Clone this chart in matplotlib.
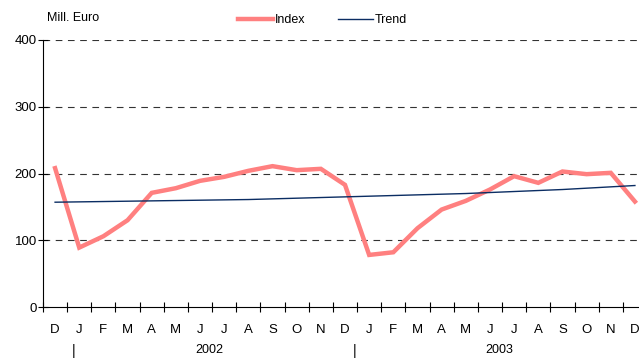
import matplotlib
matplotlib.use("Agg")
import matplotlib.pyplot as plt

plt.rcParams['font.family'] = ['Liberation Sans', 'DejaVu Sans']

months = ["D", "J", "F", "M", "A", "M", "J", "J", "A", "S", "O", "N",
          "D", "J", "F", "M", "A", "M", "J", "J", "A", "S", "O", "N", "D"]
index_vals = [208, 89, 106, 130, 171, 178, 189, 195, 204, 211, 205, 207,
              183, 78, 82, 118, 146, 159, 176, 196, 186, 203, 199, 201, 158]
trend_vals = [157, 157.5, 158, 158.5, 159, 159.5, 160, 160.5, 161, 162, 163, 164,
              165, 166, 167, 168, 169, 170, 171.5, 173, 174.5, 176, 178, 180, 182]
years = ["2002", "2003"]
year_pos = [6.4, 18.4]
year_sep = [0.75, 12.4]

x = list(range(len(months)))

fig = plt.figure(figsize=(6.39, 3.60), dpi=100)
ax = fig.add_axes([43 / 639, 1 - 307 / 360, 604 / 639, 267 / 360])

ax.plot(x, index_vals, color="#FF8080", lw=3.2, label="Index", solid_joinstyle="miter")
ax.plot(x, trend_vals, color="#0B2D63", lw=1.0, label="Trend")

ax.set_xlim(-0.5, 24.5)
ax.set_ylim(0, 400)
ax.set_yticks([0, 100, 200, 300, 400])
for v in [100, 200, 300, 400]:
    ax.axhline(v, color="#333333", lw=0.8, dashes=(6, 5), zorder=0)

ax.set_xticks([i + 0.5 for i in range(-1, 25)], minor=False)
ax.set_xticklabels([])
ax.set_xticks(x, minor=True)
ax.set_xticklabels(months, minor=True)
ax.tick_params(axis="x", which="major", direction="inout", length=7, width=0.8)
ax.tick_params(axis="x", which="minor", length=0, pad=12, labelsize=9.5)
ax.tick_params(axis="y", direction="inout", length=7, width=0.8, labelsize=9.5, pad=1)

for s in ["top", "right"]:
    ax.spines[s].set_visible(False)
ax.spines["left"].set_linewidth(0.8)
ax.spines["bottom"].set_linewidth(0.8)

for yr, p in zip(years, year_pos):
    ax.text(p, -0.162, yr, transform=ax.get_xaxis_transform(), ha="center",
            va="center", fontsize=9)
for p in year_sep:
    ax.text(p, -0.165, "|", transform=ax.get_xaxis_transform(), ha="center",
            va="center", fontsize=10)

fig.text(47 / 639, 1 - 18 / 360, "Mill. Euro", fontsize=9, va="center")

fig.legend(loc="center", bbox_to_anchor=(0.505, 1 - 20 / 360), ncol=2,
           frameon=False, fontsize=9, handlelength=2.8, handletextpad=0.15,
           columnspacing=2.6, borderpad=0)

fig.savefig("out.png", dpi=100)
plt.close(fig)
